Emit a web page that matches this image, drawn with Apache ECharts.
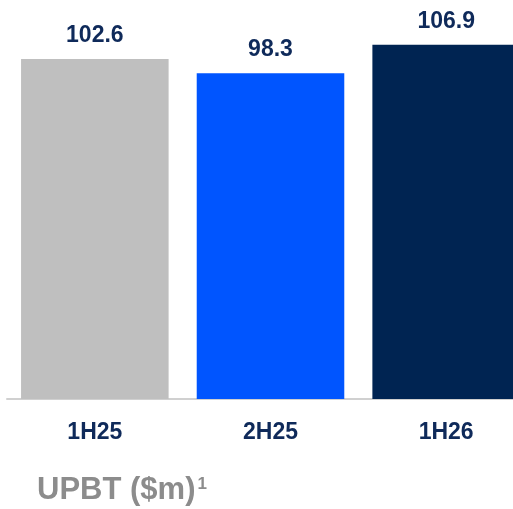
<!DOCTYPE html>
<html>
<head>
<meta charset="utf-8">
<script src="https://cdn.jsdelivr.net/npm/echarts@6/dist/echarts.min.js"></script>
<style>
  html, body { margin: 0; padding: 0; background: #ffffff; overflow: hidden; }
  /* the last bar runs past the right edge of the page, so the canvas is wider than the window */
  #chart { width: 534px; height: 509px; }
</style>
</head>
<body>
<div id="chart"></div>
<script>
// Underlying profit before tax by half-year period
const categories = ['1H25', '2H25', '1H26'];
const upbt = [102.6, 98.3, 106.9];
const barColors = ['#bfbfbf', '#0055ff', '#002452'];

const chart = echarts.init(document.getElementById('chart'), null, { renderer: 'canvas' });

chart.setOption({
  animation: false,
  backgroundColor: '#ffffff',
  title: {
    text: '{a|UPBT ($m)}{s|1}',
    left: 32,
    top: 469,
    textStyle: {
      rich: {
        a: { fontFamily: 'Liberation Sans, Arial, sans-serif', fontWeight: 'bold', fontSize: 31, color: '#8c8c8c', lineHeight: 32, verticalAlign: 'bottom' },
        s: { fontFamily: 'Liberation Sans, Arial, sans-serif', fontWeight: 'bold', fontSize: 17, color: '#8c8c8c', lineHeight: 32, verticalAlign: 'top', padding: [2, 0, 10, 2] }
      }
    }
  },
  grid: { left: 7, top: 0, right: 0, height: 399, containLabel: false },
  xAxis: {
    type: 'category',
    data: categories,
    axisLine: { show: true, lineStyle: { color: '#d0d0d0', width: 2 } },
    axisTick: { show: false },
    axisLabel: {
      margin: 22,
      fontFamily: 'Liberation Sans, Arial, sans-serif',
      fontWeight: 'bold',
      fontSize: 23,
      color: '#0f2a5a'
    }
  },
  yAxis: {
    type: 'value',
    min: 0,
    max: 120.4,
    show: false,
    splitLine: { show: false }
  },
  series: [{
    type: 'bar',
    data: upbt.map((v, i) => ({ value: v, itemStyle: { color: barColors[i] } })),
    barCategoryGap: '16%',
    label: {
      show: true,
      position: 'top',
      distance: 12,
      formatter: p => p.value.toFixed(1),
      fontFamily: 'Liberation Sans, Arial, sans-serif',
      fontWeight: 'bold',
      fontSize: 23,
      color: '#0f2a5a'
    }
  }]
});
</script>
</body>
</html>
